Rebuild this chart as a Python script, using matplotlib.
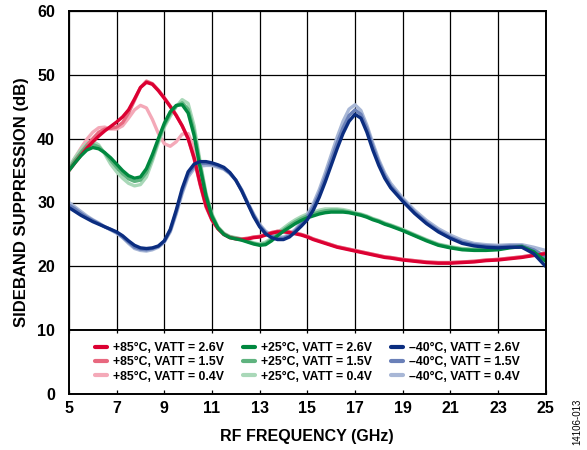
import matplotlib
matplotlib.use('Agg')
import matplotlib.pyplot as plt

plt.rcParams['font.family'] = ['Liberation Sans', 'DejaVu Sans']
plt.rcParams['font.weight'] = 'bold'

# RF frequency (GHz)
FREQ = [5, 5.25, 5.5, 5.75, 6, 6.25, 6.5, 6.75, 7, 7.25, 7.5, 7.75, 8, 8.25, 8.5, 8.75,
        9, 9.25, 9.5, 9.75, 10, 10.25, 10.5, 10.75, 11, 11.25, 11.5, 11.75, 12, 12.25,
        12.5, 12.75, 13, 13.25, 13.5, 13.75, 14, 14.25, 14.5, 14.75, 15, 15.25, 15.5,
        15.75, 16, 16.25, 16.5, 16.75, 17, 17.25, 17.5, 17.75, 18, 18.25, 18.5,
        19, 19.5, 20, 20.5, 21, 21.5, 22, 22.5, 23, 23.5, 24, 24.5, 25]

# sideband suppression (dB), +85C
HOT_26 = [35.0, 36.2, 37.4, 38.5, 39.5, 40.4, 41.2, 41.9, 42.6, 43.4, 44.5, 46.2, 48.0, 48.8, 48.5, 47.5,
          46.3, 45.0, 43.6, 42.0, 40.0, 37.0, 33.0, 29.5, 27.3, 25.9, 25.0, 24.5, 24.3, 24.2,
          24.3, 24.5, 24.6, 24.9, 25.2, 25.4, 25.4, 25.3, 25.1, 24.9, 24.6, 24.2, 23.9,
          23.6, 23.3, 23.0, 22.8, 22.6, 22.4, 22.2, 22.0, 21.8, 21.6, 21.4, 21.3,
          21.0, 20.8, 20.6, 20.5, 20.5, 20.6, 20.7, 20.9, 21.0, 21.2, 21.4, 21.7, 22.0]
HOT_15 = [35.2, 36.6, 37.8, 39.0, 40.0, 41.0, 41.5, 41.6, 41.8, 42.5, 44.0, 46.0, 48.0, 49.0, 48.6, 47.6,
          46.4, 45.1, 43.7, 42.0, 40.0, 36.8, 32.8, 29.3, 27.2, 25.9, 25.0, 24.6, 24.4, 24.3,
          24.4, 24.6, 24.7, 25.0, 25.3, 25.5, 25.5, 25.4, 25.2, 25.0, 24.7, 24.3, 24.0,
          23.7, 23.4, 23.1, 22.9, 22.7, 22.5, 22.3, 22.1, 21.9, 21.7, 21.5, 21.4,
          21.1, 20.9, 20.7, 20.6, 20.6, 20.7, 20.8, 21.0, 21.1, 21.3, 21.5, 21.8, 22.1]
HOT_04 = [35.5, 37.0, 38.5, 39.9, 41.0, 41.7, 41.8, 41.5, 41.5, 42.0, 43.2, 44.5, 45.2, 44.8, 43.0, 40.8,
          39.2, 38.8, 39.5, 40.7, 40.8, 38.5, 34.0, 30.0, 27.5, 26.0, 25.1, 24.6, 24.4, 24.3,
          24.4, 24.6, 24.7, 25.0, 25.3, 25.5, 25.5, 25.4, 25.2, 25.0, 24.7, 24.3, 24.0,
          23.7, 23.4, 23.1, 22.9, 22.7, 22.5, 22.3, 22.1, 21.9, 21.7, 21.5, 21.4,
          21.1, 20.9, 20.7, 20.6, 20.6, 20.7, 20.8, 21.0, 21.1, 21.3, 21.5, 21.8, 22.1]

# +25C
ROOM_26 = [35.0, 36.2, 37.3, 38.2, 38.6, 38.4, 37.8, 37.0, 36.0, 35.0, 34.2, 33.8, 34.0, 35.3, 37.5, 40.0,
           42.4, 44.2, 45.2, 45.3, 44.0, 40.5, 35.5, 31.0, 27.8, 26.0, 25.0, 24.5, 24.3, 24.1,
           23.8, 23.5, 23.3, 23.4, 24.0, 24.8, 25.5, 26.1, 26.7, 27.2, 27.6, 27.9, 28.2,
           28.4, 28.5, 28.5, 28.5, 28.4, 28.2, 28.0, 27.7, 27.3, 27.0, 26.6, 26.3,
           25.6, 24.8, 24.0, 23.3, 22.9, 22.6, 22.5, 22.5, 22.6, 22.9, 23.1, 22.3, 20.8]
ROOM_15 = [35.2, 36.6, 37.8, 38.8, 39.1, 38.7, 37.8, 36.6, 35.5, 34.5, 33.7, 33.3, 33.5, 34.7, 37.0, 39.7,
           42.1, 43.9, 45.1, 45.6, 44.6, 41.2, 36.0, 31.2, 28.0, 26.1, 25.1, 24.6, 24.4, 24.2,
           23.9, 23.6, 23.4, 23.6, 24.2, 25.0, 25.7, 26.4, 27.0, 27.5, 27.9, 28.2, 28.5,
           28.7, 28.8, 28.8, 28.7, 28.5, 28.3, 28.1, 27.8, 27.4, 27.1, 26.7, 26.4,
           25.7, 24.9, 24.1, 23.4, 23.0, 22.7, 22.6, 22.6, 22.7, 23.0, 23.2, 22.5, 21.2]
ROOM_04 = [35.5, 37.0, 38.3, 39.3, 39.6, 39.0, 37.6, 36.0, 34.8, 33.8, 33.0, 32.6, 32.8, 34.0, 36.5, 39.3,
           41.8, 43.5, 45.0, 46.1, 45.5, 42.0, 36.5, 31.5, 28.2, 26.2, 25.2, 24.7, 24.5, 24.3,
           24.0, 23.7, 23.5, 23.8, 24.4, 25.3, 26.0, 26.7, 27.3, 27.8, 28.2, 28.5, 28.8,
           29.0, 29.0, 29.0, 28.9, 28.7, 28.4, 28.2, 27.9, 27.5, 27.2, 26.8, 26.5,
           25.8, 25.0, 24.2, 23.5, 23.1, 22.8, 22.7, 22.7, 22.8, 23.1, 23.3, 22.7, 21.5]

# -40C
COLD_26 = [29.2, 28.6, 28.0, 27.5, 27.0, 26.6, 26.2, 25.8, 25.4, 24.8, 24.0, 23.3, 22.9, 22.8, 22.9, 23.2,
           24.0, 25.8, 28.8, 32.2, 34.8, 36.0, 36.4, 36.4, 36.2, 35.9, 35.5, 34.7, 33.5, 31.8,
           29.8, 27.8, 26.2, 25.1, 24.5, 24.2, 24.2, 24.6, 25.4, 26.3, 27.3, 28.8, 30.8,
           33.2, 35.8, 38.4, 40.8, 42.7, 43.8, 43.2, 41.0, 38.2, 35.8, 33.8, 32.3,
           30.2, 28.3, 26.7, 25.4, 24.4, 23.6, 23.2, 23.0, 22.9, 23.0, 23.0, 22.0, 20.0]
COLD_15 = [29.6, 29.0, 28.3, 27.7, 27.2, 26.7, 26.2, 25.8, 25.3, 24.6, 23.8, 23.0, 22.7, 22.6, 22.8, 23.1,
           23.9, 25.6, 28.5, 31.8, 34.4, 35.7, 36.1, 36.1, 36.0, 35.7, 35.3, 34.6, 33.5, 31.9,
           29.9, 28.0, 26.4, 25.3, 24.7, 24.4, 24.4, 24.8, 25.6, 26.6, 27.7, 29.3, 31.4,
           33.9, 36.6, 39.3, 41.7, 43.6, 44.5, 43.8, 41.6, 38.8, 36.3, 34.2, 32.6,
           30.4, 28.5, 26.9, 25.6, 24.6, 23.8, 23.4, 23.2, 23.1, 23.2, 23.2, 22.6, 21.5]
COLD_04 = [30.0, 29.3, 28.6, 27.9, 27.3, 26.8, 26.2, 25.7, 25.2, 24.5, 23.6, 22.8, 22.5, 22.4, 22.6, 23.0,
           23.8, 25.4, 28.2, 31.4, 34.0, 35.3, 35.7, 35.8, 35.8, 35.5, 35.2, 34.5, 33.5, 32.0,
           30.0, 28.2, 26.6, 25.5, 24.9, 24.6, 24.6, 25.0, 25.8, 26.9, 28.1, 29.8, 32.0,
           34.6, 37.4, 40.2, 42.7, 44.6, 45.3, 44.4, 42.1, 39.3, 36.7, 34.6, 33.0,
           30.7, 28.8, 27.2, 25.9, 24.9, 24.1, 23.6, 23.4, 23.3, 23.4, 23.4, 23.0, 22.5]

LABELS = ['+85°C, VATT = 2.6V', '+85°C, VATT = 1.5V', '+85°C, VATT = 0.4V',
          '+25°C, VATT = 2.6V', '+25°C, VATT = 1.5V', '+25°C, VATT = 0.4V',
          '–40°C, VATT = 2.6V', '–40°C, VATT = 1.5V', '–40°C, VATT = 0.4V']
SERIES = [HOT_26, HOT_15, HOT_04, ROOM_26, ROOM_15, ROOM_04, COLD_26, COLD_15, COLD_04]
COLORS = ['#DC0032', '#E8687F', '#F4A9B8',
          '#00883F', '#5FB37F', '#A9D8B8',
          '#0B2D80', '#6A80B8', '#A8B7D6']

XTICKS = list(range(5, 26, 2))
YTICKS = list(range(0, 61, 10))
LEGEND_TOP = 10  # legend box occupies the 0..10 dB band

fig = plt.figure(figsize=(5.87, 4.5), dpi=100)
ax = fig.add_axes([0.1175, 0.124, 0.812, 0.852])

# grid only above the legend band
ax.vlines(XTICKS, LEGEND_TOP, 60, color='black', lw=0.9, zorder=1)
ax.hlines(YTICKS[2:], 5, 25, color='black', lw=0.9, zorder=1)
ax.axhline(LEGEND_TOP, color='black', lw=1.4, zorder=4)
# small inward ticks under the legend top line
ax.vlines(XTICKS, LEGEND_TOP - 0.45, LEGEND_TOP, color='black', lw=0.9, zorder=4)

lines = [None] * 9
# lightest drawn first so the darker lines sit on top
for order in [2, 5, 8, 1, 4, 7, 0, 3, 6]:
    lines[order], = ax.plot(FREQ, SERIES[order], color=COLORS[order], lw=2.4,
                            label=LABELS[order], solid_capstyle='round', zorder=3)

ax.set_xlim(5, 25)
ax.set_ylim(0, 60)
ax.set_xticks(XTICKS)
ax.set_yticks(YTICKS)
ax.tick_params(axis='x', direction='in', length=3, width=0.9, labelsize=11.5, pad=5)
ax.tick_params(axis='y', length=0, labelsize=11.5, pad=10)
for s in ax.spines.values():
    s.set_linewidth(1.4)
    s.set_zorder(5)

ax.set_xlabel('RF FREQUENCY (GHz)', fontsize=11.5, fontweight='bold', labelpad=9)
ax.set_ylabel('SIDEBAND SUPPRESSION (dB)', fontsize=12, fontweight='bold', labelpad=6)

leg = ax.legend(handles=lines, ncol=3, loc='center', bbox_to_anchor=(0.0, 0, 1, LEGEND_TOP / 60),
                fontsize=8.8, frameon=False, handlelength=1.0, handletextpad=0.45,
                labelspacing=0.2, columnspacing=1.6, borderaxespad=0, borderpad=0)
for ln in leg.get_lines():
    ln.set_linewidth(3)

fig.text(0.984, 0.062, '14106-013', rotation=90, fontsize=7, fontweight='normal',
         ha='center', va='center')

fig.savefig('out.png', dpi=100)
